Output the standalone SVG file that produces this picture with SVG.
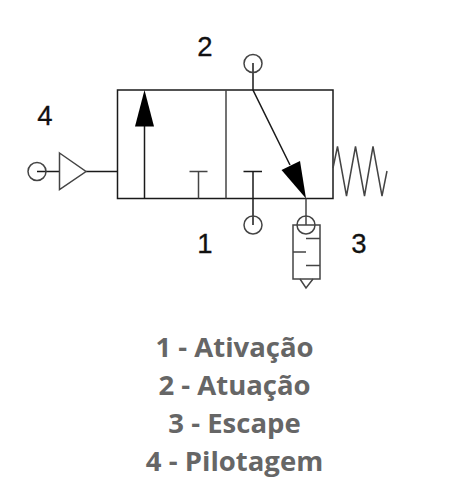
<svg xmlns="http://www.w3.org/2000/svg" width="459" height="497" viewBox="0 0 459 497">
<style>
.l{fill:none;stroke:#1a1a1a;stroke-width:1.5}
.g{fill:none;stroke:#444;stroke-width:1.5}
.a{fill:#000;stroke:none}
.n{font-family:"Liberation Sans",Arial,sans-serif;font-size:27.500px;fill:#111;stroke:#111;stroke-width:.3;text-anchor:middle}
.c{font-family:"Open Sans",sans-serif;font-size:27.500px;font-weight:700;fill:#666;text-anchor:middle}
</style>
<rect width="459" height="497" fill="#fff"/>
<g id="valve">
<rect class="l" x="117.500" y="90" width="215.500" height="108.500"/>
<path class="g" d="M226 90V198.500"/>
</g>
<g id="connectors">
<path class="l" d="M37 171.500H59.500M86 171.500H117.500"/>
<path class="l" d="M144.500 198.500V125"/>
<path class="a" d="M144.500 90L135 126.500H154Z"/>
<path class="g" d="M198.500 198.500V171.500M189.500 171.500H207.500"/>
<path class="l" d="M253 63V90L290 165"/>
<path class="a" d="M306 198.500L281.500 170L300 161Z"/>
<path class="l" d="M253 171.500V225M243.500 171.500H262"/>
<path class="g" d="M306 198.500V225"/>
<path class="g" d="M333 168L337.500 146.500L346.500 196L355.500 146.500L364.500 196L373 146.500L382 196L387 171"/>
</g>
<g id="port-4"><circle class="g" cx="37" cy="171.500" r="9"/><path class="g" d="M59.500 153L86 171.500L59.500 189.500Z"/><text class="n" x="45" y="125">4</text></g>
<g id="port-2"><circle class="g" cx="253" cy="63.500" r="9"/><text class="n" x="205" y="56">2</text></g>
<g id="port-1"><circle class="g" cx="253" cy="225" r="9"/><text class="n" x="205" y="253">1</text></g>
<g id="port-3">
<circle class="g" cx="306" cy="225" r="9"/>
<rect class="g" x="293" y="225" width="27" height="54"/>
<path class="g" d="M306 238.500H320M293 252H306M306 265.500H320M300 279L306 288L313 279"/>
<text class="n" x="359" y="253">3</text>
</g>
<g id="caption">
<text class="c" x="234.500" y="357">1 - Ativação</text>
<text class="c" x="234.500" y="395">2 - Atuação</text>
<text class="c" x="234.500" y="433">3 - Escape</text>
<text class="c" x="234.500" y="471">4 - Pilotagem</text>
</g>
</svg>
